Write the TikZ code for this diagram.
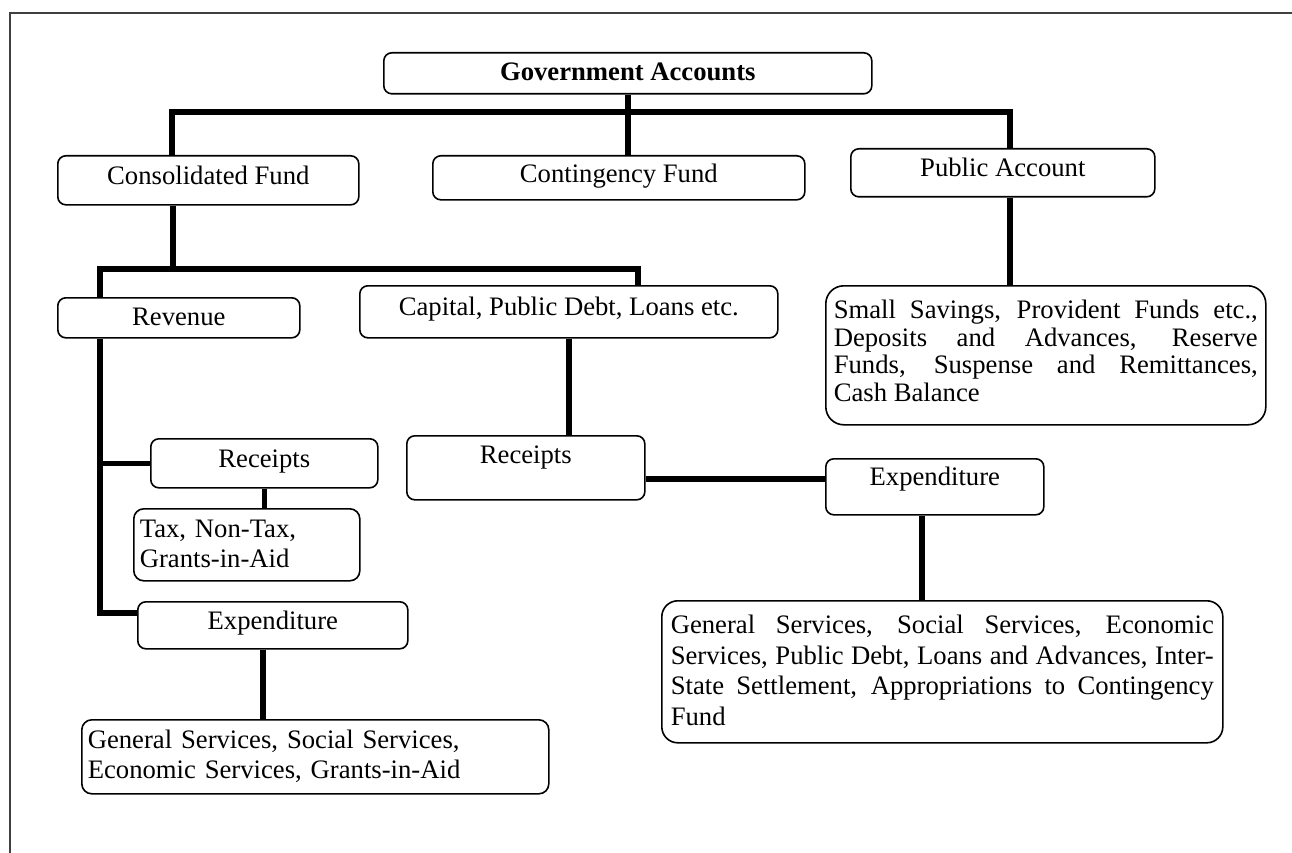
\documentclass[tikz,border=0pt]{standalone}
\usepackage{fontspec}
\setmainfont{Liberation Serif}
\newcommand\dfont{\fontsize{26.67pt}{30pt}\selectfont}
\tikzset{
  box/.style={draw=black, line width=1.6pt, rounded corners=8pt, inner xsep=0pt, inner ysep=0pt, anchor=north west, font=\dfont},
  conn/.style={line width=5.5pt, line join=miter},
  frame/.style={line width=1.6pt, draw=black!75},
}
\begin{document}
\begin{tikzpicture}[x=1pt,y=-1pt]
\useasboundingbox (0,0) rectangle (1292,853);
\draw[frame] (10,853) -- (10,13) -- (1292,13);

\node[box, minimum width=488pt, text height=28pt, text depth=13pt, font=\dfont\bfseries] (ga) at (383,52) {Government Accounts};
\node[box, minimum width=301pt, text height=29pt, text depth=20pt] (cf) at (57,155) {Consolidated Fund};
\node[box, minimum width=372pt, text height=27pt, text depth=17pt] (cg) at (432,155) {Contingency Fund};
\node[box, minimum width=304pt, text height=28pt, text depth=20pt] (pa) at (850,148) {Public Account};
\node[box, minimum width=242pt, text height=28pt, text depth=12pt] (rev) at (57,297) {Revenue};
\node[box, minimum width=418pt, text height=30pt, text depth=22pt] (cap) at (359,285) {Capital, Public Debt, Loans etc.};
\node[box, minimum width=227pt, text height=29pt, text depth=20pt] (rl) at (150,438) {Receipts};
\node[box, text width=214pt, inner xsep=6pt, align=left, text height=29pt, text depth=43pt, rounded corners=10pt] (tax) at (133,508) {Tax, Non-Tax,\\Grants-in-Aid};
\node[box, minimum width=270pt, text height=28pt, text depth=19pt] (le) at (137,601) {Expenditure};
\node[box, text width=455pt, inner xsep=6pt, align=left, text height=29pt, text depth=45pt, rounded corners=10pt] (gl) at (81,719) {General Services, Social Services,\\Economic Services, Grants-in-Aid};
\node[box, minimum width=238pt, text height=28pt, text depth=36pt] (rr) at (406,435) {Receipts};
\node[box, minimum width=218pt, text height=27pt, text depth=29pt] (er) at (825,458) {Expenditure};
\node[box, text width=543pt, inner xsep=9pt, align=justify, text height=33pt, text depth=109pt, rounded corners=16pt, font=\fontsize{26.67pt}{30.5pt}\selectfont] (gr) at (661,600) {General Services, Social Services, Economic\linebreak Services, Public Debt, Loans and Advances, Inter-\linebreak State Settlement, Appropriations to Contingency\linebreak Fund};
\node[box, text width=424pt, inner xsep=8pt, align=justify, text height=33pt, text depth=106pt, rounded corners=18pt, font=\fontsize{26.67pt}{27.5pt}\selectfont] (ss) at (825,285) {Small Savings, Provident Funds etc.,\linebreak Deposits and Advances, Reserve\linebreak Funds, Suspense and Remittances,\linebreak Cash Balance};

\coordinate (t1) at (172,112);
\coordinate (t2) at (1010,112);
\coordinate (m0) at (173,269);
\coordinate (m1) at (100,269);
\coordinate (m2) at (638,269);
\coordinate (r1) at (100,613);
\coordinate (e1) at (263,0);
\coordinate (e2) at (922,0);
\coordinate (h1) at (0,479);

\draw[conn] (ga.south) -- (ga.south |- cg.north);
\draw[conn] (t1 |- cf.north) -- (t1) -- (t2) -- (t2 |- pa.north);
\draw[conn] (m0 |- cf.south) -- (m0);
\draw[conn] (m1 |- rev.north) -- (m1) -- (m2) -- (m2 |- cap.north);
\draw[conn] (m1 |- rev.south) -- (r1) -- (r1 -| le.west);
\draw[conn] (m1 |- rl.west) -- (rl.west);
\draw[conn] (rl.south) -- (rl.south |- tax.north);
\draw[conn] (e1 |- le.south) -- (e1 |- gl.north);
\draw[conn] (cap.south) -- (cap.south |- rr.north);
\draw[conn] (h1 -| rr.east) -- (h1 -| er.west);
\draw[conn] (e2 |- er.south) -- (e2 |- gr.north);
\draw[conn] (t2 |- pa.south) -- (t2 |- ss.north);
\end{tikzpicture}
\end{document}
